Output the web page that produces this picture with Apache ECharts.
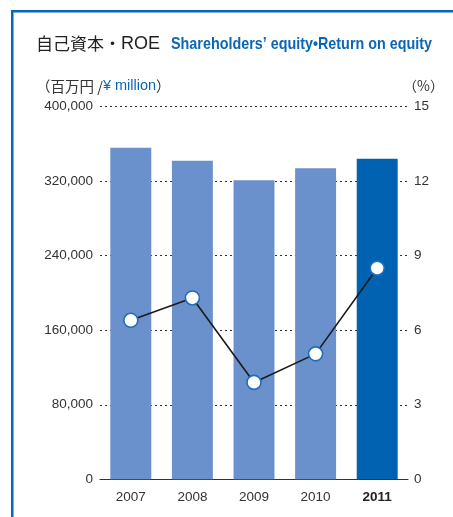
<!DOCTYPE html>
<html>
<head>
<meta charset="utf-8">
<style>
  html, body { margin: 0; padding: 0; background: #fff; }
  #chart { width: 453px; height: 517px; }
</style>
<script src="https://cdn.jsdelivr.net/npm/echarts@6/dist/echarts.min.js"></script>
</head>
<body>
<div id="chart"></div>
<script>
// Fiscal years, shareholders' equity (¥ million) and ROE (%)
const years = ['2007', '2008', '2009', '2010', '2011'];
const equity = [356000, 342000, 321000, 334000, 344000];
const roe = [6.4, 7.3, 3.9, 5.05, 8.5];
const leftTicks = { min: 0, max: 400000, interval: 80000 };
const rightTicks = { min: 0, max: 15, interval: 3 };

const BLUE = '#0b66b5';
const LIGHT = '#6a91cb';
const DARK = '#0062b1';
const TEXT = '#333333';
const NUM_FONT = 'Liberation Sans';

// English subtitle is set in a condensed bold face: squeeze a regular bold
// face horizontally so it fills its slot.
const subTitle = 'Shareholders’ equity•Return on equity';
const subFont = 'bold 17px "Liberation Sans"';
const subWidth = 261;
const measureCtx = document.createElement('canvas').getContext('2d');
measureCtx.font = subFont;
const subScale = subWidth / measureCtx.measureText(subTitle).width;

const chart = echarts.init(document.getElementById('chart'), null, { renderer: 'canvas' });

chart.setOption({
  animation: false,
  backgroundColor: '#ffffff',
  grid: { left: 100, right: 45, top: 106.7, bottom: 37.7, containLabel: false },
  graphic: [
    // frame accents: top and left rules
    { type: 'rect', shape: { x: 11, y: 10, width: 442, height: 2.5 }, style: { fill: BLUE }, silent: true },
    { type: 'rect', shape: { x: 11, y: 10, width: 2.5, height: 507 }, style: { fill: BLUE }, silent: true },
    {
      type: 'text', x: 36, y: 44,
      style: {
        text: '{a|自己資本・}{r|ROE}',
        verticalAlign: 'middle',
        rich: {
          a: { fontFamily: 'Noto Sans CJK JP', fontSize: 17, fill: '#222' },
          r: { fontFamily: NUM_FONT, fontSize: 18, fill: '#222' }
        }
      }
    },
    {
      type: 'text', x: 171, y: 44, scaleX: subScale, originX: 0, originY: 0,
      style: {
        text: subTitle,
        font: subFont,
        fill: BLUE,
        verticalAlign: 'middle'
      }
    },
    {
      type: 'text', x: 36, y: 86,
      style: {
        text: '{a|（百万円 /}{b|¥ million}{a|）}',
        verticalAlign: 'middle',
        rich: {
          a: { fontFamily: 'Noto Sans CJK JP', fontSize: 14.5, fill: TEXT },
          b: { fontFamily: NUM_FONT, fontSize: 14.5, fill: BLUE }
        }
      }
    },
    {
      type: 'text', x: 403, y: 86,
      style: {
        text: '（%）',
        verticalAlign: 'middle',
        fontFamily: 'Noto Sans CJK JP', fontSize: 14, fill: TEXT
      }
    }
  ],
  xAxis: {
    type: 'category',
    data: years,
    axisTick: { show: false },
    axisLine: { show: true, lineStyle: { color: '#333', width: 1.2 } },
    axisLabel: {
      interval: 0,
      margin: 11,
      fontFamily: NUM_FONT, fontSize: 13.5, color: TEXT,
      formatter: (v, i) => i === years.length - 1 ? '{b|' + v + '}' : v,
      rich: { b: { fontFamily: NUM_FONT, fontSize: 13.5, fontWeight: 'bold', color: '#222' } }
    }
  },
  yAxis: [
    {
      type: 'value',
      min: leftTicks.min, max: leftTicks.max, interval: leftTicks.interval,
      axisLine: { show: false },
      axisTick: { show: false },
      axisLabel: {
        margin: 7, fontFamily: NUM_FONT, fontSize: 13.5, color: TEXT,
        formatter: v => v.toLocaleString('en-US')
      },
      splitLine: { show: true, lineStyle: { color: '#333', type: [2, 3], width: 1 } }
    },
    {
      type: 'value',
      min: rightTicks.min, max: rightTicks.max, interval: rightTicks.interval,
      axisLine: { show: false },
      axisTick: { show: false },
      splitLine: { show: false },
      axisLabel: { margin: 6, fontFamily: NUM_FONT, fontSize: 13.5, color: TEXT }
    }
  ],
  series: [
    {
      name: 'equity',
      type: 'bar',
      yAxisIndex: 0,
      barWidth: '66.5%',
      data: equity.map((v, i) => ({
        value: v,
        itemStyle: { color: i === equity.length - 1 ? DARK : LIGHT }
      })),
      z: 2
    },
    {
      name: 'ROE',
      type: 'line',
      yAxisIndex: 1,
      data: roe,
      symbol: 'circle',
      symbolSize: 14,
      showAllSymbol: true,
      lineStyle: { color: '#1a1a1a', width: 1.6 },
      itemStyle: { color: '#ffffff', borderColor: '#1d6fb8', borderWidth: 1.6 },
      z: 3
    }
  ]
});
</script>
</body>
</html>
